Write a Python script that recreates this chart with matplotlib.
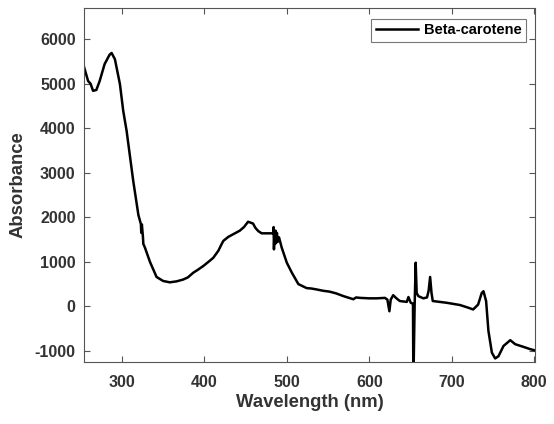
import matplotlib
matplotlib.use("Agg")
import matplotlib.pyplot as plt

plt.rcParams['font.family'] = ['Liberation Sans', 'DejaVu Sans']
plt.rcParams['axes.unicode_minus'] = False

# spectrum
wavelength = [254, 259, 262, 265, 269, 273, 279, 285, 287.5, 291.5, 297.6, 301.6,
              305.7, 313.7, 320, 323, 323.5, 324.2, 325.5, 326, 327.9, 334, 342,
              350, 358, 366, 374, 380, 386.5, 392, 398.7, 405, 410.8, 417, 421,
              423, 429, 435, 443, 448, 453, 456, 459, 462, 465.4, 469.5, 476, 482,
              483.5, 484, 484.4, 485, 485.6, 486.3, 487, 488, 489, 490.5, 493.8,
              500, 506, 514, 524, 530, 536, 544, 552, 560, 568.6, 580.7, 584, 589,
              600, 609, 619, 622, 624.4, 626, 629, 633, 637, 645.5, 647.5, 650.3,
              653.0, 653.4, 653.8, 655.0, 656.3, 657.5, 659.5, 665.6, 670, 672,
              673.8, 675.5, 677, 694, 710, 720, 726, 732, 736.4, 738.5, 741.7,
              744.5, 748.7, 752.7, 756.7, 762.8, 771, 777, 787, 795, 801]
absorbance = [5380, 5060, 5000, 4840, 4860, 5060, 5440, 5650, 5690, 5550, 4990, 4390,
              3940, 2820, 2050, 1850, 1650, 1840, 1560, 1400, 1320, 1000, 660,
              570, 540, 560, 600, 650, 755, 820, 906, 1000, 1090, 1250, 1400,
              1470, 1560, 1620, 1700, 1780, 1900, 1880, 1860, 1760, 1690, 1640, 1640, 1640,
              1640, 1780, 1280, 1620, 1400, 1700, 1420, 1650, 1450, 1550, 1320,
              980, 760, 500, 410, 400, 380, 350, 330, 290, 230, 160, 200, 190,
              180, 180, 190, 150, -110, 150, 250, 180, 120, 100, 210, 80,
              60, -1400, -1400, 0, 980, 300, 230, 180, 200, 350,
              660, 300, 120, 80, 30, -30, -70, 40, 300, 340, 120,
              -550, -1040, -1170, -1120, -890, -760, -850, -910, -960, -990]

xticks = [300, 400, 500, 600, 700, 800]
yticks = [-1000, 0, 1000, 2000, 3000, 4000, 5000, 6000]

fig = plt.figure(figsize=(5.54, 4.24), dpi=100)
ax = fig.add_axes([0.1516, 0.1462, 0.8141, 0.8349])

ax.plot(wavelength, absorbance, color='black', lw=1.8, label='Beta-carotene')

ax.set_xlim(254, 801)
ax.set_ylim(-1250, 6700)
ax.set_xticks(xticks)
ax.set_yticks(yticks)

ax.tick_params(direction='in', top=True, right=True, length=4, width=0.8,
               color='#555555', labelcolor='#333333', labelsize=11.5)
ax.tick_params(axis='x', pad=9)
ax.tick_params(axis='y', pad=6)
for lbl in ax.get_xticklabels() + ax.get_yticklabels():
    lbl.set_fontweight('bold')
for sp in ax.spines.values():
    sp.set_color('#555555')
    sp.set_linewidth(0.8)

ax.set_xlabel('Wavelength (nm)', fontsize=13.3, fontweight='bold', color='#333333',
              labelpad=3)
ax.set_ylabel('Absorbance', fontsize=13.3, fontweight='bold', color='#333333',
              labelpad=6)

leg = ax.legend(loc='upper right', bbox_to_anchor=(0.980, 0.969), borderaxespad=0,
                fancybox=False, prop={'weight': 'bold', 'size': 10.5},
                handlelength=2.9, borderpad=0.3, handletextpad=0.4)
leg.get_frame().set_edgecolor('#555555')
leg.get_frame().set_linewidth(0.8)

fig.savefig('out.png', dpi=100)
